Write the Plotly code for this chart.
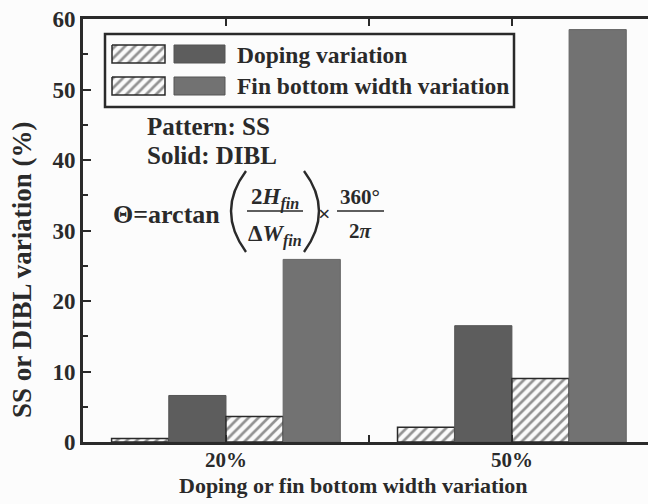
import plotly.graph_objects as go

# Variation levels on the x axis
variation_levels = ["20%", "50%"]
level_pos = [0, 1]

# SS (hatched) and DIBL (solid) variation, in percent
ss_doping = [0.5, 2.1]
dibl_doping = [6.6, 16.5]
ss_fin = [3.6, 9.0]
dibl_fin = [25.9, 58.5]

y_ticks = [0, 10, 20, 30, 40, 50, 60]

INK = "#2a2a2a"
BG = "#fcfcfc"
DOPING_GREY = "#5d5d5d"
FIN_GREY = "#727272"
FONT = "Liberation Serif, Times New Roman, DejaVu Serif, serif"

hatch = dict(shape="/", fgcolor=INK, bgcolor="#fbfbfb", size=7, solidity=0.38)

fig = go.Figure()

fig.add_trace(go.Bar(x=level_pos, y=ss_doping, name="SS, doping",
                     marker=dict(color="#fbfbfb", pattern=hatch,
                                 line=dict(color=INK, width=1.5))))
fig.add_trace(go.Bar(x=level_pos, y=dibl_doping, name="DIBL, doping",
                     marker=dict(color=DOPING_GREY,
                                 line=dict(color="#555", width=1))))
fig.add_trace(go.Bar(x=level_pos, y=ss_fin, name="SS, fin width",
                     marker=dict(color="#fbfbfb", pattern=hatch,
                                 line=dict(color=INK, width=1.5))))
fig.add_trace(go.Bar(x=level_pos, y=dibl_fin, name="DIBL, fin width",
                     marker=dict(color=FIN_GREY,
                                 line=dict(color="#666", width=1))))

# Pixel-space overlay used for the hand-drawn key and the formula
PX_L, PX_R, PX_B, PX_T = 83, 648, 442, 19
W, H = 648, 504


def px_x(px):
    return (px - PX_L) / (PX_R - PX_L)


def px_y(py):
    return (PX_B - py) / (PX_B - PX_T)


def swatch(x0, x1, y0, y1, hatched, color=None):
    kw = dict(x=[x0, x1, x1, x0, x0], y=[y0, y0, y1, y1, y0], mode="lines",
              fill="toself", xaxis="x2", yaxis="y2", showlegend=False,
              hoverinfo="skip")
    if hatched:
        fig.add_trace(go.Scatter(fillcolor="#fbfbfb", fillpattern=hatch,
                                 line=dict(color=INK, width=1.5), **kw))
    else:
        fig.add_trace(go.Scatter(fillcolor=color,
                                 line=dict(color="#555", width=1), **kw))


swatch(112, 165, 45, 63, True)
swatch(174, 225, 45, 63, False, DOPING_GREY)
swatch(112, 165, 77, 95, True)
swatch(174, 225, 77, 95, False, FIN_GREY)

shapes = [
    # key frame
    dict(type="rect", xref="x2", yref="y2", x0=105, x1=514, y0=34, y1=107,
         line=dict(color=INK, width=2.5)),
    # fraction bars
    dict(type="line", xref="x2", yref="y2", x0=247, x1=303, y0=211, y1=211,
         line=dict(color=INK, width=1.6)),
    dict(type="line", xref="x2", yref="y2", x0=337, x1=384, y0=211, y1=211,
         line=dict(color=INK, width=1.6)),
    # large parentheses
    dict(type="path", xref="x2", yref="y2",
         path="M 246,171 Q 216,211 246,252", line=dict(color=INK, width=2.4)),
    dict(type="path", xref="x2", yref="y2",
         path="M 304,171 Q 334,211 304,252", line=dict(color=INK, width=2.4)),
]


def f(size):
    return dict(family=FONT, size=size, color=INK, weight="bold")


txt = dict(xref="x2", yref="y2", showarrow=False)
annotations = [
    dict(x=235, y=55, text="Doping variation", xanchor="left",
         font=f(23.5), **txt),
    dict(x=235, y=86, text="Fin bottom width variation", xanchor="left",
         font=f(23.5), **txt),
    dict(x=145, y=126, text="Pattern: SS", xanchor="left", font=f(25), **txt),
    dict(x=145, y=155, text="Solid: DIBL", xanchor="left", font=f(25), **txt),
    dict(x=111, y=214, text="Θ=arctan", xanchor="left", font=f(26), **txt),
    dict(x=275, y=198, text="2<i>H</i><sub><i>fin</i></sub>", font=f(23), **txt),
    dict(x=275, y=235, text="Δ<i>W</i><sub><i>fin</i></sub>", font=f(23), **txt),
    dict(x=324, y=213, text="×", font=f(22), **txt),
    dict(x=360, y=197, text="360°", font=f(21), **txt),
    dict(x=360, y=231, text="2<i>π</i>", font=f(21), **txt),
    # axis titles
    dict(xref="paper", yref="paper", x=px_x(353), y=px_y(486),
         xanchor="center", yanchor="middle",
         text="Doping or fin bottom width variation", font=f(22),
         showarrow=False),
    dict(xref="paper", yref="paper", x=px_x(22), y=px_y(270),
         xanchor="center", yanchor="middle",
         text="SS or DIBL variation (%)", textangle=-90, font=f(27),
         showarrow=False),
]

fig.update_layout(
    width=W, height=H,
    margin=dict(l=PX_L, r=W - PX_R, t=PX_T, b=H - PX_B),
    paper_bgcolor=BG, plot_bgcolor=BG,
    font=dict(family=FONT, color=INK, weight="bold"),
    barmode="group", bargap=0.2, bargroupgap=0,
    showlegend=False,
    shapes=shapes, annotations=annotations,
    xaxis=dict(
        range=[-0.5, 1.476], tickvals=level_pos, ticktext=variation_levels,
        ticks="inside", ticklen=7, tickwidth=2, tickcolor=INK,
        minor=dict(tickvals=[0.5], ticks="inside", ticklen=7, tickwidth=2,
                   tickcolor=INK),
        showline=True, linewidth=3, linecolor=INK, mirror="ticks",
        showgrid=False, zeroline=False,
        tickfont=f(21), ticklabelstandoff=-3,
    ),
    yaxis=dict(
        range=[0, 60], tickvals=y_ticks,
        ticks="inside", ticklen=8, tickwidth=2, tickcolor=INK,
        minor=dict(ticks="inside", ticklen=5, tickwidth=2, dtick=5,
                   tickcolor=INK),
        showline=True, linewidth=3, linecolor=INK,
        showgrid=False, zeroline=False,
        tickfont=f(23),
    ),
    yaxis3=dict(
        range=[0, 60], tickvals=y_ticks, overlaying="y", side="right",
        anchor="x", ticks="inside", ticklen=6, tickwidth=2, tickcolor=INK,
        showticklabels=False, showline=False, showgrid=False, zeroline=False,
    ),
    xaxis2=dict(range=[PX_L, PX_R], overlaying="x", anchor="y2", visible=False),
    yaxis2=dict(range=[PX_B, PX_T], overlaying="y", anchor="x2", visible=False),
)

fig.write_html("out.html")
